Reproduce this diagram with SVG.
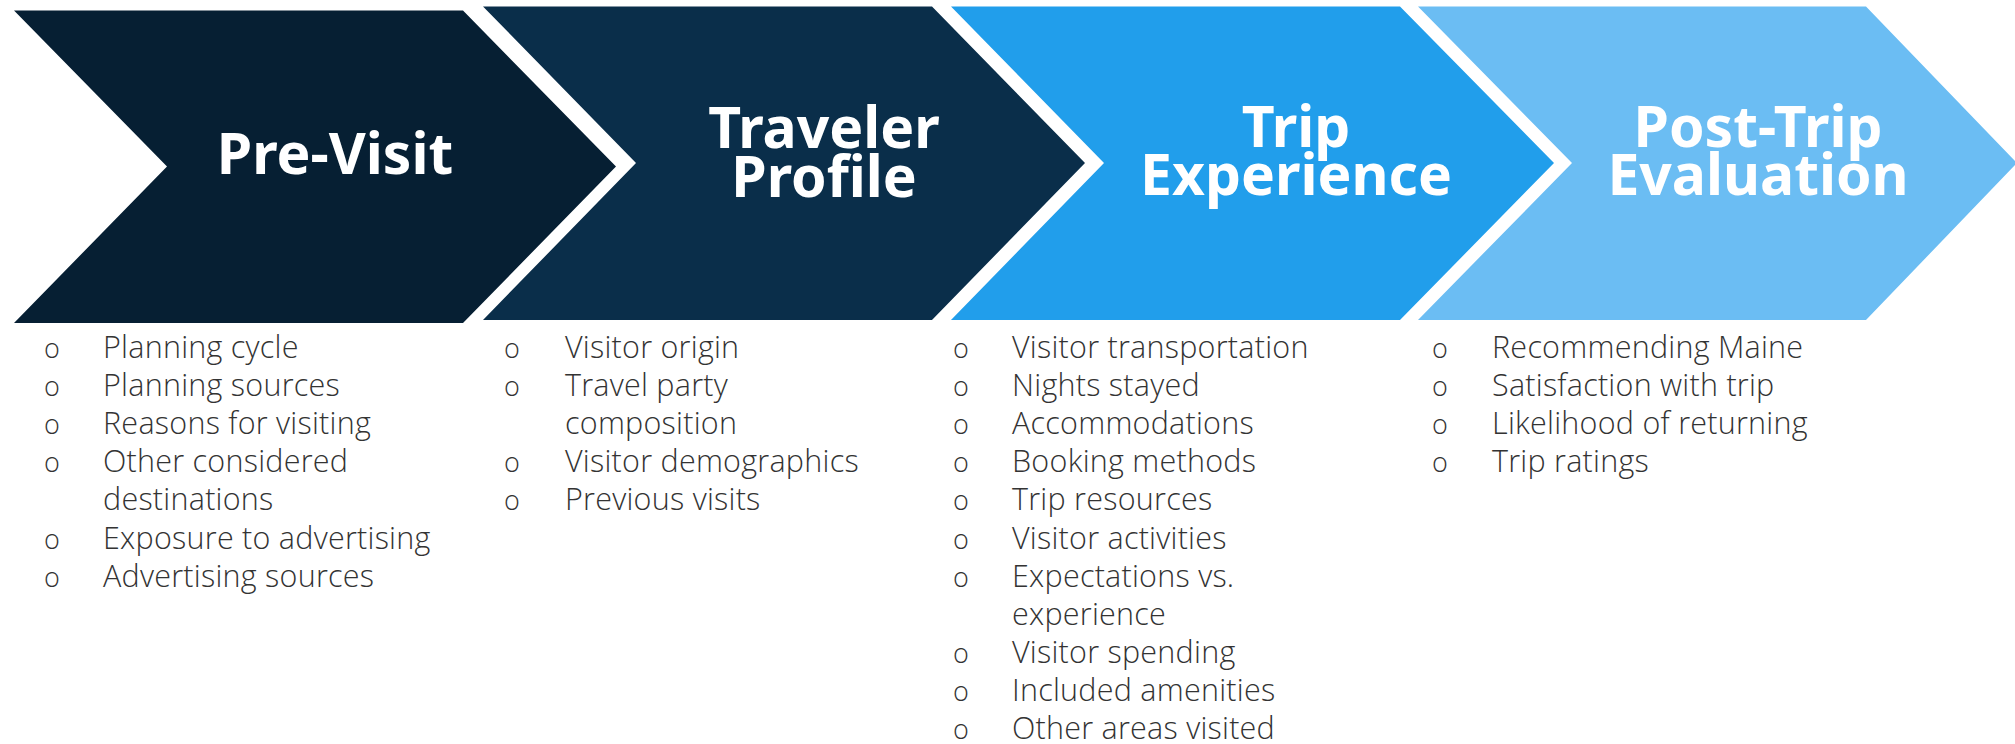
<svg xmlns="http://www.w3.org/2000/svg" width="2015" height="744" viewBox="0 0 2015 744">
<style>
.title{font-family:"Noto Sans","Open Sans",sans-serif;font-weight:700;font-size:57px;fill:#ffffff;text-anchor:middle}
.item{font-family:"Open Sans","Noto Sans",sans-serif;font-weight:300;font-size:30.5px;letter-spacing:0.25px;fill:#333333}
.bul{font-family:"Open Sans","Noto Sans",sans-serif;font-weight:300;font-size:27px;fill:#333333;text-anchor:middle}
</style>
<rect width="2015" height="744" fill="#ffffff"/>
<g id="stage-previsit">
<polygon points="14,10.5 463,10.5 616,166.5 463,323 14,323 167,166.5" fill="#061F33"/>
<text class="title" x="335" y="174">Pre-Visit</text>
</g>
<g id="stage-traveler">
<polygon points="483,6.5 932,6.5 1085,163 932,320 483,320 636,163" fill="#0A2E4A"/>
<text class="title"><tspan x="824" y="148">Traveler</tspan><tspan x="824" y="197">Profile</tspan></text>
</g>
<g id="stage-trip">
<polygon points="951,6.5 1400,6.5 1554,163 1400,320 951,320 1104,163" fill="#219EEB"/>
<text class="title"><tspan x="1296" y="147">Trip</tspan><tspan x="1296" y="195">Experience</tspan></text>
</g>
<g id="stage-post">
<polygon points="1418,6.5 1866,6.5 2017,163 1866,320 1418,320 1572,163" fill="#6BBDF3"/>
<text class="title"><tspan x="1758" y="147">Post-Trip</tspan><tspan x="1758" y="195">Evaluation</tspan></text>
</g>
<g id="connectors"></g>
<g id="list-previsit">
<text class="bul" x="52" y="357.5">o</text><text class="item" x="103" y="357.5">Planning cycle</text>
<text class="bul" x="52" y="395.7">o</text><text class="item" x="103" y="395.7">Planning sources</text>
<text class="bul" x="52" y="433.9">o</text><text class="item" x="103" y="433.9">Reasons for visiting</text>
<text class="bul" x="52" y="472.1">o</text><text class="item" x="103" y="472.1">Other considered</text>
<text class="item" x="103" y="510.3">destinations</text>
<text class="bul" x="52" y="548.5">o</text><text class="item" x="103" y="548.5">Exposure to advertising</text>
<text class="bul" x="52" y="586.7">o</text><text class="item" x="103" y="586.7">Advertising sources</text>
</g>
<g id="list-traveler">
<text class="bul" x="512" y="357.5">o</text><text class="item" x="565" y="357.5">Visitor origin</text>
<text class="bul" x="512" y="395.7">o</text><text class="item" x="565" y="395.7">Travel party</text>
<text class="item" x="565" y="433.9">composition</text>
<text class="bul" x="512" y="472.1">o</text><text class="item" x="565" y="472.1">Visitor demographics</text>
<text class="bul" x="512" y="510.3">o</text><text class="item" x="565" y="510.3">Previous visits</text>
</g>
<g id="list-trip">
<text class="bul" x="961" y="357.5">o</text><text class="item" x="1012" y="357.5">Visitor transportation</text>
<text class="bul" x="961" y="395.7">o</text><text class="item" x="1012" y="395.7">Nights stayed</text>
<text class="bul" x="961" y="433.9">o</text><text class="item" x="1012" y="433.9">Accommodations</text>
<text class="bul" x="961" y="472.1">o</text><text class="item" x="1012" y="472.1">Booking methods</text>
<text class="bul" x="961" y="510.3">o</text><text class="item" x="1012" y="510.3">Trip resources</text>
<text class="bul" x="961" y="548.5">o</text><text class="item" x="1012" y="548.5">Visitor activities</text>
<text class="bul" x="961" y="586.7">o</text><text class="item" x="1012" y="586.7">Expectations vs.</text>
<text class="item" x="1012" y="624.9">experience</text>
<text class="bul" x="961" y="663.1">o</text><text class="item" x="1012" y="663.1">Visitor spending</text>
<text class="bul" x="961" y="701.3">o</text><text class="item" x="1012" y="701.3">Included amenities</text>
<text class="bul" x="961" y="739">o</text><text class="item" x="1012" y="739">Other areas visited</text>
</g>
<g id="list-post">
<text class="bul" x="1440" y="357.5">o</text><text class="item" x="1492" y="357.5">Recommending Maine</text>
<text class="bul" x="1440" y="395.7">o</text><text class="item" x="1492" y="395.7">Satisfaction with trip</text>
<text class="bul" x="1440" y="433.9">o</text><text class="item" x="1492" y="433.9">Likelihood of returning</text>
<text class="bul" x="1440" y="472.1">o</text><text class="item" x="1492" y="472.1">Trip ratings</text>
</g>
</svg>
